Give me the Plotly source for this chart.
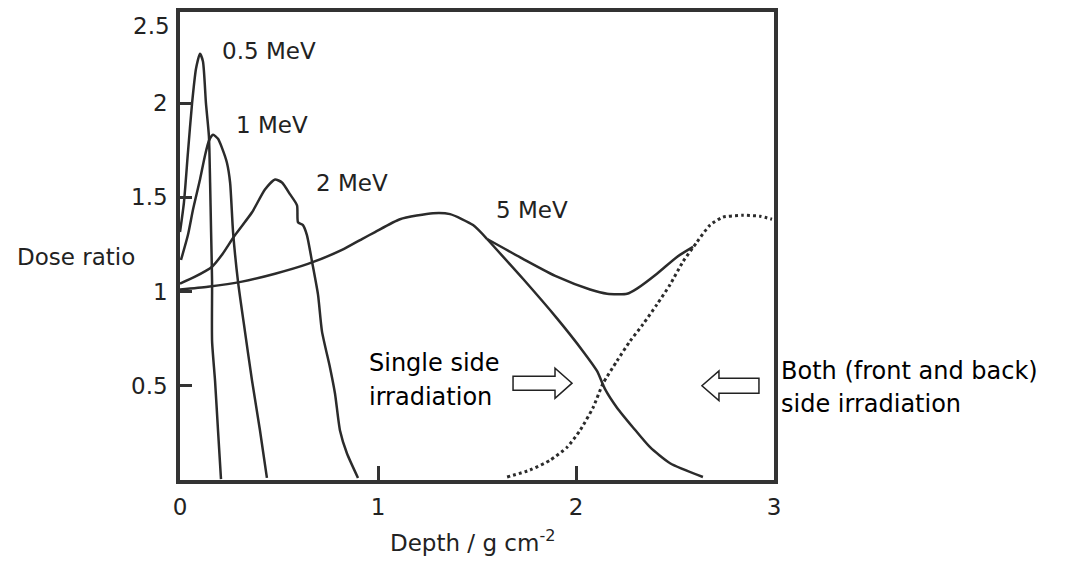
import plotly.graph_objects as go

# ---------------- data ----------------
x_05 = [0.0, 0.020, 0.040, 0.061, 0.081, 0.101, 0.116, 0.131, 0.146, 0.152, 0.157, 0.162, 0.162, 0.177, 0.192, 0.207]
y_05 = [1.316, 1.474, 1.737, 2.0, 2.184, 2.263, 2.221, 2.0, 1.826, 1.579, 1.316, 1.053, 0.737, 0.526, 0.263, 0.005]

x_1 = [0.005, 0.040, 0.066, 0.101, 0.126, 0.146, 0.167, 0.192, 0.212, 0.237, 0.253, 0.268, 0.293, 0.328, 0.364, 0.404, 0.439]
y_1 = [1.168, 1.300, 1.437, 1.595, 1.721, 1.800, 1.832, 1.811, 1.763, 1.684, 1.579, 1.316, 1.053, 0.789, 0.526, 0.263, 0.011]

x_2 = [0.0, 0.076, 0.162, 0.212, 0.278, 0.364, 0.429, 0.480, 0.515, 0.556, 0.591, 0.596, 0.621, 0.641, 0.667,
       0.697, 0.717, 0.758, 0.783, 0.808, 0.843, 0.899]
y_2 = [1.042, 1.079, 1.132, 1.195, 1.300, 1.421, 1.542, 1.595, 1.579, 1.516, 1.458, 1.368, 1.353, 1.300, 1.158,
       0.984, 0.789, 0.595, 0.458, 0.263, 0.142, 0.011]

x_5 = [0.0, 0.141, 0.313, 0.480, 0.646, 0.818, 0.919, 0.985, 1.111, 1.278, 1.364, 1.480, 1.551]
y_5 = [1.011, 1.026, 1.053, 1.095, 1.147, 1.221, 1.279, 1.316, 1.384, 1.416, 1.411, 1.353, 1.279]

x_single = [1.551, 1.732, 1.904, 2.035, 2.106, 2.146, 2.207, 2.288, 2.374, 2.475, 2.641]
y_single = [1.279, 1.068, 0.858, 0.684, 0.579, 0.484, 0.384, 0.279, 0.174, 0.089, 0.016]

x_both = [1.551, 1.732, 1.904, 2.071, 2.157, 2.258, 2.308, 2.409, 2.510, 2.591]
y_both = [1.279, 1.174, 1.079, 1.011, 0.989, 0.989, 1.016, 1.095, 1.184, 1.237]

x_dot = [1.652, 1.768, 1.869, 1.955, 2.020, 2.086, 2.136, 2.207, 2.273, 2.338, 2.409, 2.475, 2.540, 2.611,
         2.677, 2.742, 2.843, 2.929, 2.990]
y_dot = [0.016, 0.053, 0.105, 0.174, 0.263, 0.384, 0.511, 0.632, 0.737, 0.826, 0.932, 1.037, 1.158, 1.263,
         1.353, 1.395, 1.405, 1.400, 1.384]

x_tickvals = [0, 1, 2, 3]
x_ticktext = ["0", "1", "2", "3"]
y_tickvals = [0.5, 1, 1.5, 2]
y_ticktext = ["0.5", "1", "1.5", "2"]

energy_labels = ["0.5 MeV", "1 MeV", "2 MeV", "5 MeV"]
energy_label_x = [0.447, 0.467, 0.869, 1.778]
energy_label_y = [2.279, 1.884, 1.579, 1.432]

# ---------------- figure ----------------
LINE = "#2b2b2b"
FONT = "DejaVu Sans"
TXT = "#222"

fig = go.Figure()
for xs, ys in [(x_05, y_05), (x_1, y_1), (x_2, y_2), (x_5, y_5), (x_single, y_single), (x_both, y_both)]:
    fig.add_trace(go.Scatter(x=xs, y=ys, mode="lines", line=dict(color=LINE, width=2.5, shape="spline", smoothing=0.6),
                             showlegend=False, hoverinfo="skip"))
fig.add_trace(go.Scatter(x=x_dot, y=y_dot, mode="lines",
                         line=dict(color=LINE, width=3, dash="dot", shape="spline", smoothing=0.6),
                         showlegend=False, hoverinfo="skip"))

annotations = []
for t, xx, yy in zip(energy_labels, energy_label_x, energy_label_y):
    annotations.append(dict(x=xx, y=yy, xref="x", yref="y", text=t, showarrow=False,
                            xanchor="center", yanchor="middle", font=dict(family=FONT, size=23, color=TXT)))

# irradiation texts
for t, xx, yy in [("Single side", 0.944, 0.622), ("irradiation", 0.944, 0.440)]:
    annotations.append(dict(x=xx, y=yy, xref="x", yref="y", text=t, showarrow=False,
                            xanchor="left", yanchor="middle", font=dict(family=FONT, size=24, color="#000")))
for t, yy in [("Both (front and back)", 0.579), ("side irradiation", 0.405)]:
    annotations.append(dict(x=1.0084, y=yy, xref="paper", yref="y", text=t, showarrow=False,
                            xanchor="left", yanchor="middle", font=dict(family=FONT, size=24, color="#000")))

# 2.5 label at top of the y axis
annotations.append(dict(x=0, y=2.41, xref="paper", yref="y", text="2.5", showarrow=False,
                        xanchor="right", yanchor="middle", xshift=-8, font=dict(family=FONT, size=23, color=TXT)))
# axis titles (horizontal y title, x title)
annotations.append(dict(x=-0.175, y=1.184, xref="paper", yref="y", text="Dose ratio", showarrow=False,
                        xanchor="center", yanchor="middle", font=dict(family=FONT, size=23, color=TXT)))
annotations.append(dict(x=1.475, y=-0.131, xref="x", yref="paper", text="Depth / g cm<sup>-2</sup>", showarrow=False,
                        xanchor="center", yanchor="middle", font=dict(family=FONT, size=23, color=TXT)))

# hollow block arrows
def arrow_path(tail, base, tip, yc, shaft_half, head_half):
    return (f"M {tail},{yc+shaft_half} L {base},{yc+shaft_half} L {base},{yc+head_half} L {tip},{yc} "
            f"L {base},{yc-head_half} L {base},{yc-shaft_half} L {tail},{yc-shaft_half} Z")

shapes = [
    dict(type="path", xref="x", yref="y", path=arrow_path(1.682, 1.894, 1.980, 0.514, 0.037, 0.080),
         line=dict(color="#222", width=1.5), fillcolor="white", layer="above"),
    dict(type="path", xref="x", yref="y", path=arrow_path(2.924, 2.722, 2.636, 0.500, 0.040, 0.079),
         line=dict(color="#222", width=1.5), fillcolor="white", layer="above"),
]

fig.update_layout(
    width=1075, height=564,
    margin=dict(l=180, r=301, t=8, b=84),
    paper_bgcolor="white", plot_bgcolor="white",
    showlegend=False,
    annotations=annotations,
    shapes=shapes,
    xaxis=dict(range=[0, 3], tickvals=x_tickvals, ticktext=x_ticktext, ticks="inside", ticklen=14, tickwidth=3,
               tickcolor="#333", showline=True, linecolor="#333", linewidth=3.5, mirror=True, showgrid=False,
               zeroline=False, tickfont=dict(family=FONT, size=23, color=TXT), ticklabelstandoff=4),
    yaxis=dict(range=[0, 2.484], tickvals=y_tickvals, ticktext=y_ticktext, ticks="inside", ticklen=12, tickwidth=3,
               tickcolor="#333", showline=True, linecolor="#333", linewidth=3.5, mirror=True, showgrid=False,
               zeroline=False, tickfont=dict(family=FONT, size=23, color=TXT), ticklabelstandoff=4),
)

fig.write_html("out.html")
